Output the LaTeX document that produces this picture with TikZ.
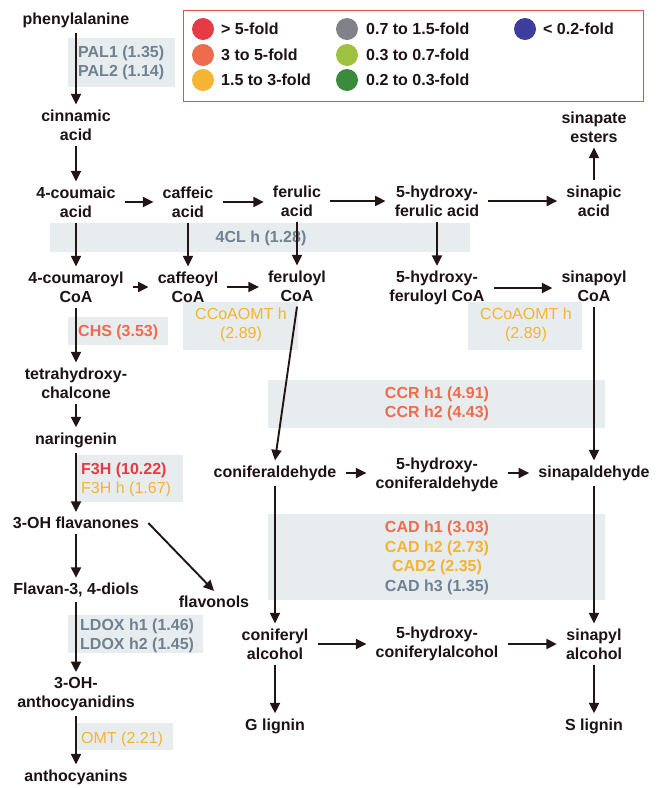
\documentclass[tikz,border=0pt]{standalone}
\usepackage{fontspec}
\setmainfont{Liberation Sans}
\usetikzlibrary{arrows.meta}
\definecolor{inkc}{HTML}{1E1214}
\definecolor{arrc}{HTML}{231416}
\definecolor{bgc}{HTML}{E7ECEF}
\definecolor{slate}{HTML}{6E8291}
\definecolor{cRed}{HTML}{E63B45}
\definecolor{cOrange}{HTML}{EE6C4D}
\definecolor{cYellow}{HTML}{F5B431}
\definecolor{cGray}{HTML}{80818B}
\definecolor{cLGreen}{HTML}{9EC23F}
\definecolor{cDGreen}{HTML}{3A8A3C}
\definecolor{cBlue}{HTML}{3D3D9C}
\definecolor{legb}{HTML}{E05055}
\begin{document}
\begin{tikzpicture}[x=1pt,y=-1pt,
  met/.style={font=\bfseries\fontsize{16}{19}\selectfont, text=inkc, align=center, inner xsep=9pt, inner ysep=5pt},
  arr/.style={draw=arrc, line width=1.9pt, -{Triangle[length=10.5pt,width=10pt]}},
  bg/.style={fill=bgc, draw=none},
  lab/.style={font=\fontsize{16}{19}\selectfont, inner sep=0pt},
  labb/.style={font=\bfseries\fontsize{16}{19}\selectfont, inner sep=0pt},
  legt/.style={font=\bfseries\fontsize{16}{19}\selectfont, text=inkc, anchor=west, inner sep=0pt}
]
\useasboundingbox (0,0) rectangle (660,788);
\fill[white] (0,0) rectangle (660,788);

% background boxes
\fill[bg] (68,38) rectangle (175,87);
\fill[bg] (50,223) rectangle (470,252);
\fill[bg] (183,302) rectangle (298,350);
\fill[bg] (468,302) rectangle (582,350);
\fill[bg] (68,317) rectangle (168,345);
\fill[bg] (77,455) rectangle (183,502);
\fill[bg] (268,380) rectangle (605,428);
\fill[bg] (268,514) rectangle (605,600);
\fill[bg] (68,615) rectangle (203,653);
\fill[bg] (77,723) rectangle (173,750);

% legend
\draw[legb, line width=1pt] (183,10) rectangle (643,101);
\fill[cRed] (203,29) circle (11pt);
\fill[cOrange] (203,55) circle (11pt);
\fill[cYellow] (203,80) circle (11pt);
\fill[cGray] (347,29) circle (11pt);
\fill[cLGreen] (347,55) circle (11pt);
\fill[cDGreen] (347,80) circle (11pt);
\fill[cBlue] (525,29) circle (11pt);
\node[legt] (l1) at (221,29) {> 5-fold};
\node[legt] (l2) at (221,55) {3 to 5-fold};
\node[legt] (l3) at (221,80) {1.5 to 3-fold};
\node[legt] (l4) at (366,29) {0.7 to 1.5-fold};
\node[legt] (l5) at (366,55) {0.3 to 0.7-fold};
\node[legt] (l6) at (366,80) {0.2 to 0.3-fold};
\node[legt] (l7) at (543,29) {< 0.2-fold};

% enzyme labels
\node[labb, text=slate, anchor=west, align=left] (pal) at (78,63) {PAL1 (1.35)\\PAL2 (1.14)};
\node[labb, text=slate] (fourcl) at (261,238) {4CL h (1.28)};
\node[lab, text=cYellow, align=center] (ccoa1) at (241,325) {CCoAOMT h\\(2.89)};
\node[lab, text=cYellow, align=center] (ccoa2) at (526,325) {CCoAOMT h\\(2.89)};
\node[labb, text=cOrange, anchor=west] (chs) at (78,332) {CHS (3.53)};
\node[labb, text=cRed, anchor=west] (f3h) at (81,470) {F3H (10.22)};
\node[lab, text=cYellow, anchor=west] (f3hh) at (81,489) {F3H h (1.67)};
\node[labb, text=cOrange, align=center] (ccr) at (437,404) {CCR h1 (4.91)\\CCR h2 (4.43)};
\node[labb, text=cOrange] (cad1) at (437,528) {CAD h1 (3.03)};
\node[labb, text=cYellow] (cad2) at (437,548) {CAD h2 (2.73)};
\node[labb, text=cYellow] (cad3) at (437,567) {CAD2 (2.35)};
\node[labb, text=slate] (cad4) at (437,587) {CAD h3 (1.35)};
\node[labb, text=slate, anchor=west, align=left] (ldox) at (80,636) {LDOX h1 (1.46)\\LDOX h2 (1.45)};
\node[lab, text=cYellow, anchor=west] (omt) at (81,739) {OMT (2.21)};

% metabolites
\node[met] (phe) at (76,20) {phenylalanine};
\node[met] (cin) at (76,125) {cinnamic\\acid};
\node[met] (cou) at (76,202) {4-coumaic\\acid};
\node[met] (caf) at (188,202) {caffeic\\acid};
\node[met] (fer) at (297,201) {ferulic\\acid};
\node[met] (hfer) at (437,201) {5-hydroxy-\\ferulic acid};
\node[met] (sin) at (594,201) {sinapic\\acid};
\node[met] (ses) at (594,127) {sinapate\\esters};
\node[met] (couCoA) at (76,287) {4-coumaroyl\\CoA};
\node[met] (cafCoA) at (188,287) {caffeoyl\\CoA};
\node[met] (ferCoA) at (297,286) {feruloyl\\CoA};
\node[met] (hferCoA) at (437,288) {5-hydroxy-\\feruloyl CoA};
\node[met] (sinCoA) at (594,286) {sinapoyl\\CoA};
\node[met] (tet) at (76,383) {tetrahydroxy-\\chalcone};
\node[met] (nar) at (76,440) {naringenin};
\node[met] (fla) at (76,523) {3-OH flavanones};
\node[met] (dio) at (76,590) {Flavan-3, 4-diols};
\node[met] (flo) at (214,602) {flavonols};
\node[met] (ant) at (76,694) {3-OH-\\anthocyanidins};
\node[met] (anc) at (76,777) {anthocyanins};
\node[met] (cald) at (275,473) {coniferaldehyde};
\node[met] (hcald) at (437,475) {5-hydroxy-\\coniferaldehyde};
\node[met] (sald) at (594,473) {sinapaldehyde};
\node[met] (calc) at (275,644) {coniferyl\\alcohol};
\node[met] (hcalc) at (437,644) {5-hydroxy-\\coniferylalcohol};
\node[met] (salc) at (594,644) {sinapyl\\alcohol};
\node[met] (G) at (275,726) {G lignin};
\node[met] (S) at (594,726) {S lignin};

% arrows
\draw[arr] (phe.south) -- (cin.north);
\draw[arr] (cin.south) -- (cou.north);
\draw[arr] (cou.east) -- (cou.east -| caf.west);
\draw[arr] (caf.east) -- (caf.east -| fer.west);
\draw[arr] (fer.east) -- (fer.east -| hfer.west);
\draw[arr] (hfer.east) -- (hfer.east -| sin.west);
\draw[arr] (sin.north) -- (ses.south);
\draw[arr] (cou.south) -- (couCoA.north);
\draw[arr] (caf.south) -- (cafCoA.north);
\draw[arr] (fer.south) -- (ferCoA.north);
\draw[arr] (hfer.south) -- (hferCoA.north);
\draw[arr] (couCoA.east) -- (couCoA.east -| cafCoA.west);
\draw[arr] (cafCoA.east) -- (cafCoA.east -| ferCoA.west);
\draw[arr] (hferCoA.east) -- (hferCoA.east -| sinCoA.west);
\draw[arr] (couCoA.south) -- (tet.north);
\draw[arr] (tet.south) -- (nar.north);
\draw[arr] (nar.south) -- (fla.north);
\draw[arr] (fla.south) -- (dio.north);
\draw[arr] (fla.east) -- (flo.north);
\draw[arr] (dio.south) -- (ant.north);
\draw[arr] (ant.south) -- (anc.north);
\draw[arr] (ferCoA.south) -- (cald.north);
\draw[arr] (sinCoA.south) -- (sald.north);
\draw[arr] (cald.east) -- (cald.east -| hcald.west);
\draw[arr] (hcald.east |- sald.west) -- (sald.west);
\draw[arr] (cald.south) -- (calc.north);
\draw[arr] (sald.south) -- (salc.north);
\draw[arr] (calc.east) -- (calc.east -| hcalc.west);
\draw[arr] (hcalc.east) -- (hcalc.east -| salc.west);
\draw[arr] (calc.south) -- (G.north);
\draw[arr] (salc.south) -- (S.north);
\end{tikzpicture}
\end{document}
